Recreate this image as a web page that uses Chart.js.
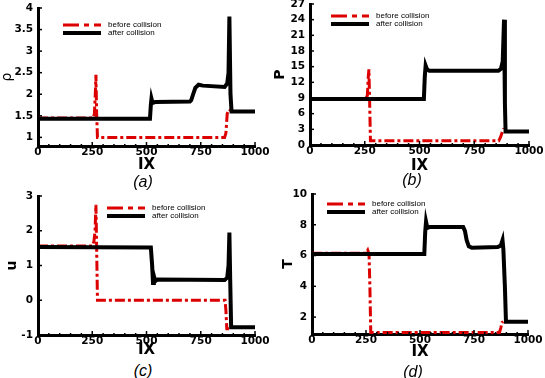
<!DOCTYPE html>
<html>
<head>
<meta charset="utf-8">
<script src="https://cdn.jsdelivr.net/npm/chart.js@4/dist/chart.umd.min.js"></script>
<style>
  html, body { margin: 0; padding: 0; background: #fff; }
  body { width: 545px; height: 378px; position: relative; overflow: hidden; }
  canvas { position: absolute; }
  .cap { position: absolute; font: italic 16px "Liberation Sans", Arial, sans-serif; color: #000; transform: translateX(-50%); line-height: 18px; }
</style>
</head>
<body>
<canvas id="rhoChart" width="273" height="174" style="left:0;top:0"></canvas>
<canvas id="pChart" width="275" height="175" style="left:270px;top:0"></canvas>
<canvas id="uChart" width="273" height="174" style="left:0;top:185px"></canvas>
<canvas id="tChart" width="275" height="176" style="left:270px;top:185px"></canvas>
<div class="cap" style="left:143px;top:173px">(a)</div>
<div class="cap" style="left:412px;top:171px">(b)</div>
<div class="cap" style="left:143px;top:362px">(c)</div>
<div class="cap" style="left:413px;top:363px">(d)</div>
<script>
// Series labels and x ticks shared by all panels
const seriesLabels = ["before collision", "after collision"];
const ixTicks = [0, 250, 500, 750, 1000];

// (a) density
const rhoTicks = [1, 1.5, 2, 2.5, 3, 3.5, 4];
const rhoBefore = [[0, 1.45], [255, 1.45], [260, 1.55], [264, 2.0], [267, 2.45], [270, 1.6], [274, 1.0],
  [860, 1.0], [866, 1.1], [872, 1.55], [880, 1.65], [888, 1.62]];
const rhoAfter = [[0, 1.43], [516, 1.43], [520, 1.75], [523, 1.9], [528, 1.8], [540, 1.82], [700, 1.83],
  [706, 1.86], [715, 2.0], [725, 2.15], [740, 2.22], [760, 2.2], [860, 2.17], [872, 2.25], [878, 2.5],
  [882, 3.8], [887, 2.0], [892, 1.6], [1000, 1.6]];

// (b) pressure
const pTicks = [0, 3, 6, 9, 12, 15, 18, 21, 24, 27];
const pBefore = [[0, 8.9], [255, 8.9], [262, 9.5], [266, 13], [269, 14.5], [272, 9], [276, 0.8],
  [862, 0.8], [870, 1.5], [878, 2.5], [884, 3.2]];
const pAfter = [[0, 8.8], [520, 8.8], [524, 13], [528, 15.2], [534, 14.5], [545, 14.2], [860, 14.2],
  [872, 14.6], [880, 16], [886, 24], [890, 8], [893, 2.6], [1000, 2.6]];

// (c) velocity
const uTicks = [-1, 0, 1, 2, 3];
const uBefore = [[0, 1.56], [250, 1.56], [258, 1.7], [263, 2.0], [267, 2.75], [270, 1.6], [274, 0],
  [862, 0], [866, -0.3], [870, -0.82], [880, -0.82]];
const uAfter = [[0, 1.53], [520, 1.52], [526, 1.0], [530, 0.5], [534, 0.7], [540, 0.55], [550, 0.6],
  [860, 0.58], [872, 0.65], [878, 1.0], [882, 1.95], [886, 0.5], [890, -0.78], [1000, -0.78]];

// (d) temperature
const tTicks = [2, 4, 6, 8, 10];
const tBefore = [[0, 6.15], [250, 6.15], [258, 6.35], [264, 6.1], [268, 4], [272, 1.0],
  [868, 1.0], [874, 1.3], [880, 1.65], [886, 1.7]];
const tAfter = [[0, 6.1], [520, 6.1], [524, 7.5], [528, 8.2], [534, 7.8], [545, 7.85], [700, 7.85],
  [708, 7.6], [716, 7.0], [726, 6.6], [740, 6.5], [860, 6.55], [874, 6.65], [882, 7.0], [886, 6.4],
  [893, 4], [898, 1.7], [1000, 1.7]];

const RED = "#dd0000";
const tickFont = { family: "DejaVu Sans", size: 10.5, weight: "bold", lineHeight: 1 };

// Tecplot style: short ticks pointing into the plot
const inwardTicks = {
  id: "inwardTicks",
  afterDatasetsDraw(chart, args, opts) {
    const { ctx, chartArea: a, scales } = chart;
    ctx.save();
    ctx.strokeStyle = "#000";
    ctx.lineWidth = 1.5;
    const mark = (axis, v, len) => {
      ctx.beginPath();
      if (axis === "x") {
        const px = scales.x.getPixelForValue(v);
        ctx.moveTo(px, a.bottom);
        ctx.lineTo(px, a.bottom - len);
      } else {
        const py = scales.y.getPixelForValue(v);
        ctx.moveTo(a.left, py);
        ctx.lineTo(a.left + len, py);
      }
      ctx.stroke();
    };
    ["x", "y"].forEach((axis) => {
      const vals = scales[axis].ticks.map((t) => t.value);
      const sub = axis === "x" ? opts.xMinor : opts.yMinor;
      vals.forEach((v, i) => {
        mark(axis, v, 4);
        if (i < vals.length - 1) {
          for (let j = 1; j < sub; j++) mark(axis, v + (vals[i + 1] - v) * j / sub, 2);
        }
      });
    });
    ctx.restore();
  }
};

// Legend drawn inside the plot, before/after stacked
const innerLegend = {
  id: "innerLegend",
  afterDatasetsDraw(chart, args, opts) {
    const { ctx, chartArea } = chart;
    const x0 = chartArea.left + opts.x;
    const y0 = chartArea.top + opts.y;
    const sets = [chart.data.datasets[1], chart.data.datasets[0]];
    ctx.save();
    sets.forEach((ds, i) => {
      const y = y0 + i * 8;
      ctx.beginPath();
      ctx.setLineDash(ds.borderDash ? [16, 5, 5, 5] : []);
      ctx.lineWidth = ds.borderWidth;
      ctx.strokeStyle = ds.borderColor;
      ctx.moveTo(x0, y);
      ctx.lineTo(x0 + 38, y);
      ctx.stroke();
      ctx.setLineDash([]);
      ctx.fillStyle = "#000";
      ctx.font = '8px "Liberation Sans", Arial, sans-serif';
      ctx.textBaseline = "middle";
      ctx.fillText(ds.label, x0 + 45, y);
    });
    ctx.restore();
  }
};

const toPts = (arr) => arr.map(([x, y]) => ({ x, y }));

function makePanel(id, p) {
  new Chart(document.getElementById(id), {
    type: "line",
    data: {
      datasets: [
        { label: seriesLabels[1], data: toPts(p.after), borderColor: "#000", borderWidth: 4, pointRadius: 0, tension: 0 },
        { label: seriesLabels[0], data: toPts(p.before), borderColor: RED, borderWidth: 3, borderDash: [10, 3, 3, 3], pointRadius: 0, tension: 0 }
      ]
    },
    plugins: [inwardTicks, innerLegend],
    options: {
      responsive: false,
      animation: false,
      layout: { padding: { top: p.top, right: p.right, left: 0, bottom: 0 } },
      plugins: {
        legend: { display: false },
        tooltip: { enabled: false },
        inwardTicks: { xMinor: 5, yMinor: p.yMinor },
        innerLegend: p.legend
      },
      scales: {
        x: {
          type: "linear",
          min: 0,
          max: 1000,
          afterBuildTicks: (s) => { s.ticks = ixTicks.map((v) => ({ value: v })); },
          afterFit: (s) => { s.height = p.xh; s.paddingLeft = 0; s.paddingRight = 0; },
          grid: { display: false, drawTicks: false },
          border: { display: true, color: "#000", width: 3 },
          ticks: { color: "#000", font: tickFont, padding: 1, maxRotation: 0, autoSkip: false, callback: (v) => String(v) },
          title: { display: true, text: "IX", color: "#000", padding: 0, font: { family: "DejaVu Sans", size: 15, weight: "bold", lineHeight: 1.2 } }
        },
        y: {
          type: "linear",
          min: p.min,
          max: p.max,
          afterBuildTicks: (s) => { s.ticks = p.ticks.map((v) => ({ value: v })); },
          afterFit: (s) => { s.width = p.yw; s.paddingTop = 0; s.paddingBottom = 0; },
          grid: { display: false, drawTicks: false },
          border: { display: true, color: "#000", width: 3 },
          ticks: { color: "#000", font: tickFont, padding: 5, autoSkip: false, callback: (v) => String(v) },
          title: { display: true, text: p.label, color: "#000", padding: { top: p.titlePad, bottom: 0 }, font: { family: "DejaVu Sans", size: 14, weight: p.titleWeight, lineHeight: 1 } }
        }
      }
    }
  });
}

makePanel("rhoChart", { before: rhoBefore, after: rhoAfter, ticks: rhoTicks, min: 0.8, max: 4, yMinor: 5,
  label: "ρ", titleWeight: "normal", titlePad: 0, top: 8, right: 18, yw: 38, xh: 28, legend: { x: 25, y: 17 } });
makePanel("pChart", { before: pBefore, after: pAfter, ticks: pTicks, min: 0, max: 27, yMinor: 3,
  label: "P", titleWeight: "bold", titlePad: 3, top: 4, right: 16, yw: 40, xh: 30, legend: { x: 21, y: 12 } });
makePanel("uChart", { before: uBefore, after: uAfter, ticks: uTicks, min: -1, max: 3, yMinor: 5,
  label: "u", titleWeight: "bold", titlePad: 5, top: 11, right: 18, yw: 38, xh: 24, legend: { x: 69, y: 12 } });
makePanel("tChart", { before: tBefore, after: tAfter, ticks: tTicks, min: 0.9, max: 10, yMinor: 5,
  label: "T", titleWeight: "bold", titlePad: 11, top: 9, right: 17, yw: 42, xh: 27, legend: { x: 15, y: 10 } });
</script>
</body>
</html>
